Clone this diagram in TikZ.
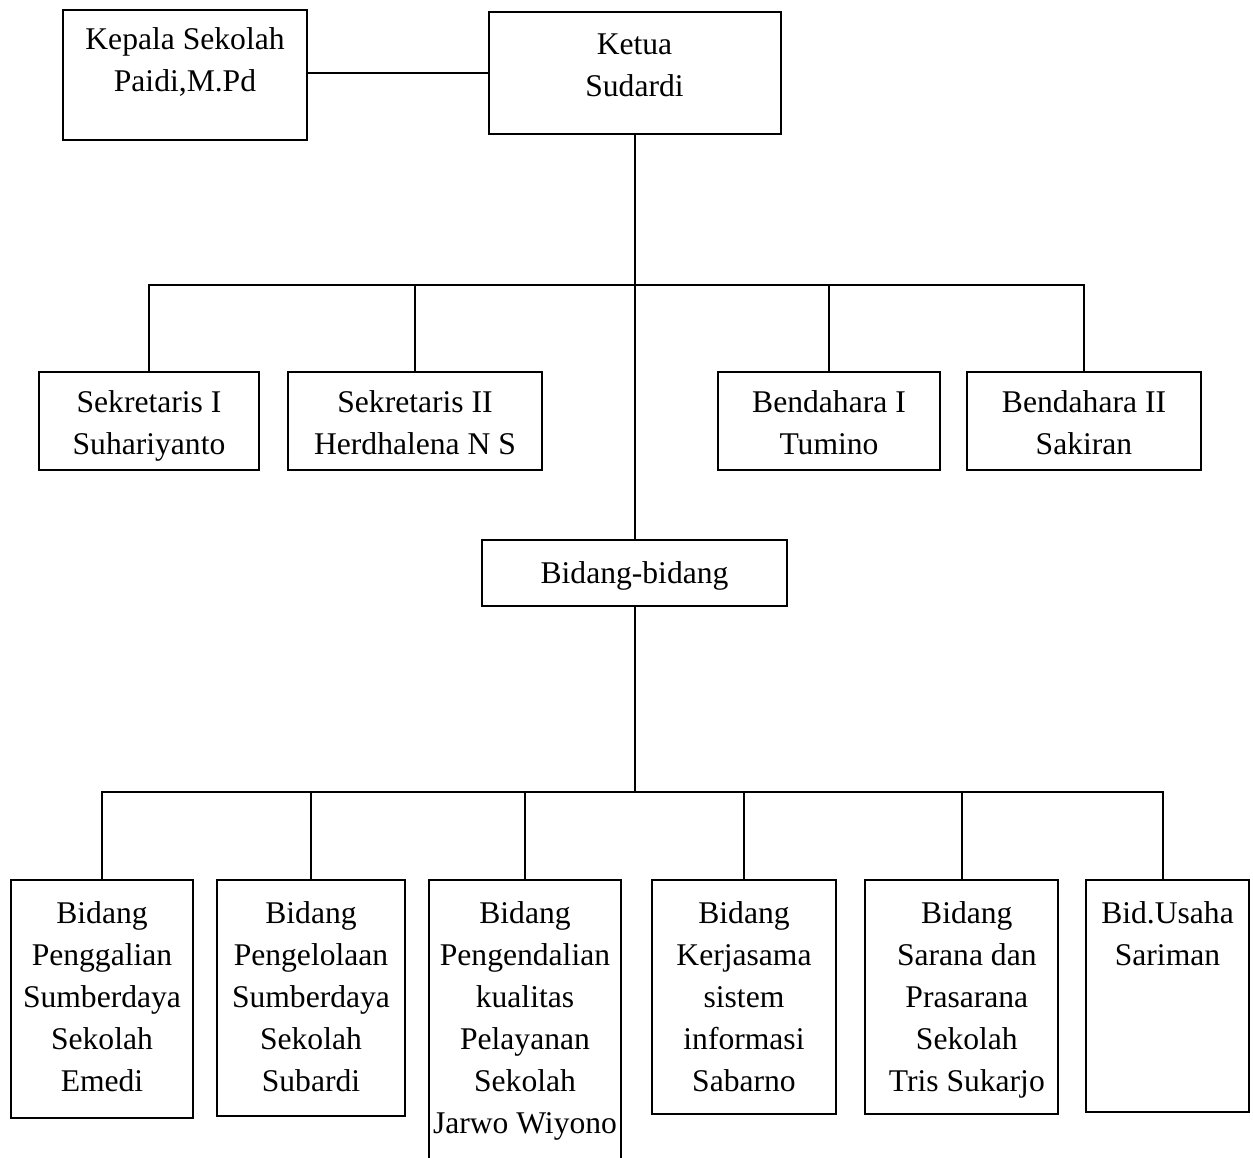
\documentclass[tikz,border=0pt]{standalone}
\usepackage{fontspec}
\setmainfont{Liberation Serif}
\begin{document}
\begin{tikzpicture}[x=0.75pt,y=-0.75pt,
  line width=1.5pt,
  box/.style 2 args={draw, rectangle, inner sep=0pt, minimum width=#1*0.75pt, minimum height=#2*0.75pt},
  txt/.style={anchor=north, align=center, inner sep=0pt, font=\fontsize{23.7pt}{31.5pt}\selectfont}]
\useasboundingbox (0,0) rectangle (1253,1157);
% boxes
\node[box={244}{130}] (kepala) at (185,75) {};
\node[box={292}{122}] (ketua) at (634.5,73) {};
\node[box={220}{98}] (s1) at (149,421) {};
\node[box={254}{98}] (s2) at (415,421) {};
\node[box={222}{98}] (b1) at (829,421) {};
\node[box={234}{98}] (b2) at (1084,421) {};
\node[box={305}{66}] (bb) at (634.5,573) {};
\node[box={182}{238}] (f1) at (102,999) {};
\node[box={188}{236}] (f2) at (311,998) {};
\node[box={192}{296}] (f3) at (525,1028) {};
\node[box={184}{234}] (f4) at (744,997) {};
\node[box={193}{234}] (f5) at (961.5,997) {};
\node[box={163}{232}] (f6) at (1167.5,996) {};
% texts
\node[txt] (tkepala) at ([yshift=-13.5pt]kepala.north) {Kepala Sekolah\\Paidi,M.Pd};
\node[txt] (tketua) at ([yshift=-16pt]ketua.north) {Ketua\\Sudardi};
\node[txt] (ts1) at ([yshift=-14pt]s1.north) {Sekretaris I\\Suhariyanto};
\node[txt] (ts2) at ([yshift=-14pt]s2.north) {Sekretaris II\\Herdhalena N S};
\node[txt] (tb1) at ([yshift=-14pt]b1.north) {Bendahara I\\Tumino};
\node[txt] (tb2) at ([yshift=-14pt]b2.north) {Bendahara II\\Sakiran};
\node[txt] (tbb) at ([yshift=-16pt]bb.north) {Bidang-bidang};
\node[txt] (tf1) at ([yshift=-16pt]f1.north) {Bidang\\Penggalian\\Sumberdaya\\Sekolah\\Emedi};
\node[txt] (tf2) at ([yshift=-16pt]f2.north) {Bidang\\Pengelolaan\\Sumberdaya\\Sekolah\\Subardi};
\node[txt] (tf3) at ([yshift=-16pt]f3.north) {Bidang\\Pengendalian\\kualitas\\Pelayanan\\Sekolah\\Jarwo Wiyono};
\node[txt] (tf4) at ([yshift=-16pt]f4.north) {Bidang\\Kerjasama\\sistem\\informasi\\Sabarno};
\node[txt] (tf5) at ([xshift=4pt,yshift=-16pt]f5.north) {Bidang\\Sarana dan\\Prasarana\\Sekolah\\Tris Sukarjo};
\node[txt] (tf6) at ([yshift=-16pt]f6.north) {Bid.Usaha\\Sariman};
% connectors
\coordinate (h1) at (634.5,285);
\coordinate (h2) at (634.5,792);
\coordinate (d6) at (1163,792);
\draw (ketua.west) -- (ketua.west -| kepala.east);
\draw (ketua.south) -- (bb.north);
\draw (s1.north) -- (s1.north |- h1) -- (b2.north |- h1) -- (b2.north);
\draw (s2.north) -- (s2.north |- h1);
\draw (b1.north) -- (b1.north |- h1);
\draw (bb.south) -- (h2);
\draw (f1.north) -- (f1.north |- h2) -- (d6) -- (d6 |- f6.north);
\draw (f2.north) -- (f2.north |- h2);
\draw (f3.north) -- (f3.north |- h2);
\draw (f4.north) -- (f4.north |- h2);
\draw (f5.north) -- (f5.north |- h2);
\end{tikzpicture}
\end{document}
